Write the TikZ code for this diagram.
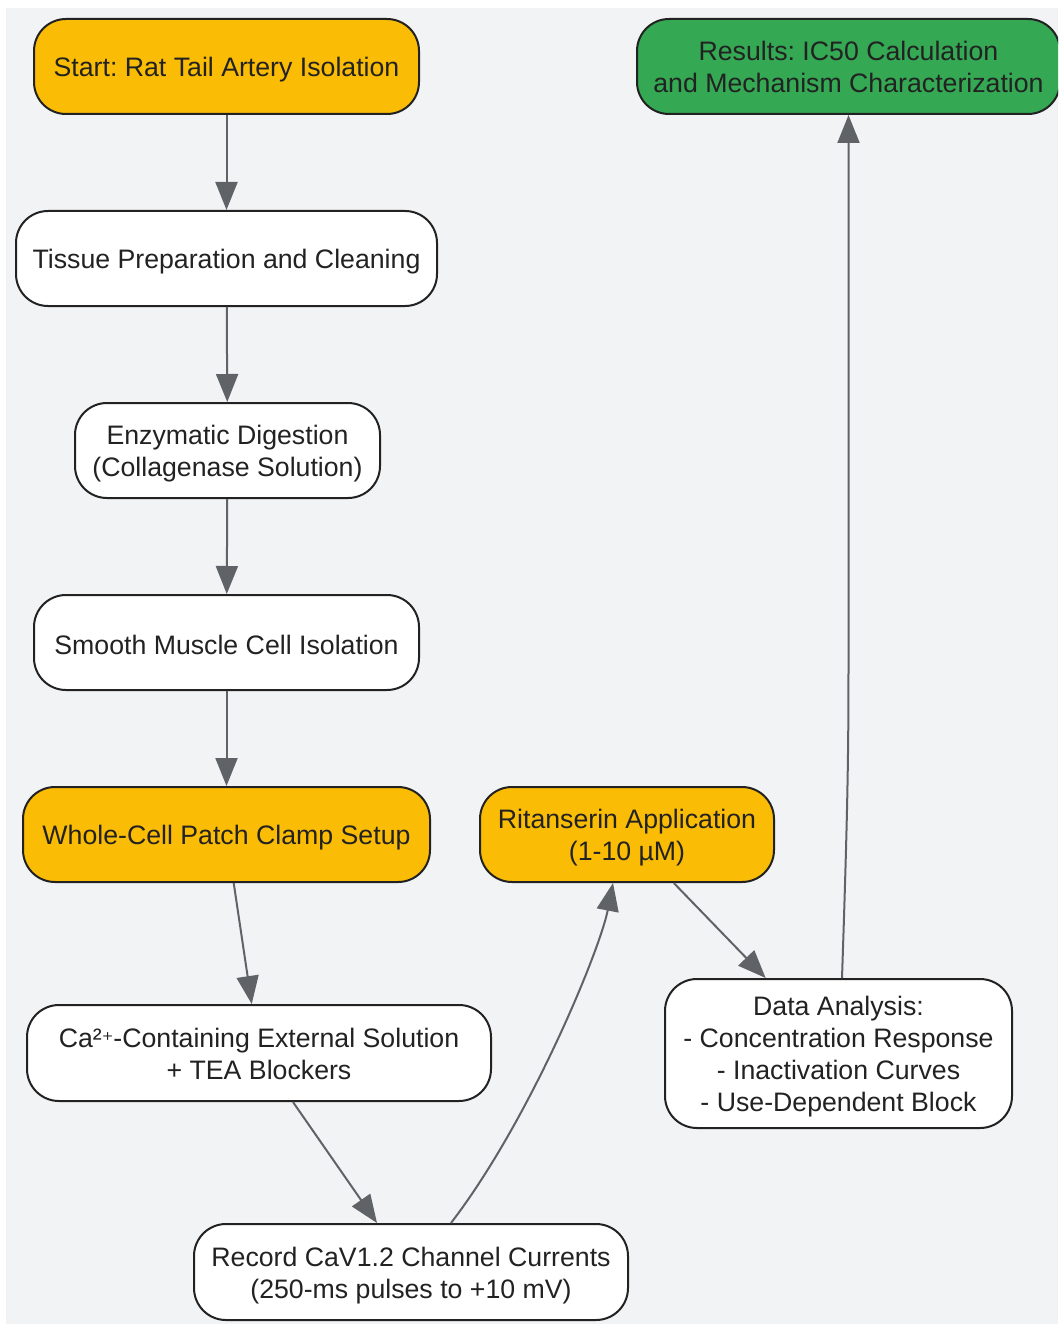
\documentclass[tikz,border=0pt]{standalone}
\usepackage{fontspec}
\setmainfont{Liberation Sans}
\newfontfamily\dejavu{DejaVu Sans}
\usetikzlibrary{arrows.meta,calc}
\definecolor{bgc}{HTML}{F2F3F5}
\definecolor{amber}{HTML}{FBBC05}
\definecolor{greenc}{HTML}{34A853}
\definecolor{edgec}{HTML}{5F6368}
\definecolor{inkc}{HTML}{222222}
\newcommand\lnstrut{\rule[-3pt]{0pt}{29pt}}
\newcommand\fl{\rule{0pt}{26pt}}
\newcommand\ldp{\rule[-5.6pt]{0pt}{5.6pt}}
\tikzset{
  box/.style={draw=inkc, line width=2pt, rounded corners=32pt, fill=white,
    align=center, text=inkc, font=\fontsize{26.7}{32}\selectfont\frenchspacing,
    inner sep=0pt, minimum height=95pt},
  single/.style={execute at begin node={\lnstrut}, execute at end node={\lnstrut}},
  ybox/.style={box, fill=amber},
  gbox/.style={box, fill=greenc},
  conn/.style={draw=edgec, line width=2pt, -{Triangle[length=28pt,width=22pt]}}
}
\begin{document}
\begin{tikzpicture}[x=1pt,y=-1pt]
\useasboundingbox (0,0) rectangle (1058,1324);
\fill[white] (0,0) rectangle (1058,1324);
\fill[bgc] (6,8) rectangle (1058,1324);
\begin{scope}
\clip (0,0) rectangle (1058,1324);
\node[ybox, single, minimum width=385pt] (start) at (226.5,66.5) {Start: Rat Tail Artery Isolation};
\node[box, single, minimum width=421pt] (tissue) at (226.5,258.5) {Tissue Preparation and Cleaning};
\node[box, minimum width=305pt] (enz) at (227.5,450.5) {\fl Enzymatic Digestion\\(Collagenase Solution)\ldp};
\node[box, single, minimum width=385pt] (smooth) at (226.5,642.5) {Smooth Muscle Cell Isolation};
\node[ybox, single, minimum width=407pt] (whole) at (226.5,834.5) {Whole-Cell Patch Clamp Setup};
\node[box, minimum width=464pt, minimum height=96pt] (ca) at (259,1053) {\fl Ca²{\dejavu\fontsize{22}{32}\selectfont ⁺}-Containing External Solution\\+ TEA Blockers\ldp};
\node[box, minimum width=434pt, minimum height=96pt] (record) at (411,1272) {\fl Record CaV1.2 Channel Currents\\(250-ms pulses to +10 mV)\ldp};
\node[ybox, minimum width=294pt] (rit) at (627,834.5) {\fl Ritanserin Application\\(1-10 µM)\ldp};
\node[box, minimum width=347pt, minimum height=149pt] (data) at (838.5,1053.5) {\fl Data Analysis:\\- Concentration Response\\- Inactivation Curves\\- Use-Dependent Block\ldp};
\node[gbox, minimum width=423pt] (results) at (848.5,66.5) {\fl Results: IC50 Calculation\\and Mechanism Characterization\ldp};
\end{scope}
\draw[conn] (start) -- (tissue);
\draw[conn] (tissue) -- (enz);
\draw[conn] (enz) -- (smooth);
\draw[conn] (smooth) -- (whole);
\draw[conn] (whole) -- (ca);
\draw[conn] (ca) -- (record);
\draw[conn] ($(record.north)+(40,0)$) .. controls (530,1120) and (600,950) .. ($(rit.south)+(-14,0)$);
\draw[conn] (rit) -- (data);
\draw[conn] ($(data.north)+(3.5,0)$) .. controls (848,800) and (848.5,750) .. (848.5,650) -- (results.south);
\end{tikzpicture}
\end{document}
